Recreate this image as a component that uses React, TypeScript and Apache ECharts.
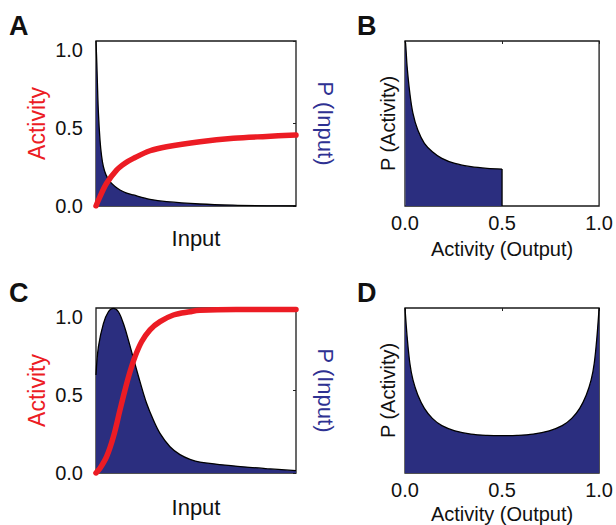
import React, { useEffect, useRef } from "react";
import * as echarts from "echarts";

// ---- data ----
const tickLabels = ["0.0", "0.5", "1.0"];

// Panel A: P(Input) density (blue) and Activity response (red)
const blueA = [
  [0, 1.06], [0.004, 0.92], [0.007, 0.79], [0.012, 0.6], [0.02, 0.424], [0.028, 0.32],
  [0.037, 0.252], [0.05, 0.2], [0.07, 0.156], [0.095, 0.125], [0.12, 0.103], [0.15, 0.085],
  [0.187, 0.071], [0.27, 0.043], [0.353, 0.028], [0.52, 0.013], [0.685, 0.005],
  [0.855, 0.001], [1, 0]
];
const redA = [
  [0, 0], [0.02, 0.06], [0.053, 0.146], [0.103, 0.231], [0.145, 0.275], [0.187, 0.306],
  [0.27, 0.355], [0.353, 0.381], [0.52, 0.413], [0.687, 0.435], [0.853, 0.447], [1, 0.456]
];

// Panel B: P(Activity)
const blueB = [
  [0, 1], [0.003, 0.986], [0.011, 0.844], [0.025, 0.683], [0.041, 0.562], [0.066, 0.46],
  [0.1, 0.38], [0.141, 0.329], [0.19, 0.289], [0.257, 0.258], [0.34, 0.238],
  [0.423, 0.228], [0.5, 0.224]
];
const edgeB = [[0.5, 0.224], [0.5, 0]];

// Panel C
const blueC = [
  [0, 0.63], [0.012, 0.81], [0.037, 0.96], [0.062, 1.036], [0.087, 1.058], [0.112, 1.036],
  [0.137, 0.96], [0.162, 0.854], [0.187, 0.737], [0.22, 0.587], [0.253, 0.448],
  [0.287, 0.34], [0.32, 0.255], [0.37, 0.169], [0.42, 0.118], [0.47, 0.088],
  [0.52, 0.07], [0.685, 0.046], [0.853, 0.028], [1, 0.015]
];
const redC = [
  [0, 0], [0.02, 0.03], [0.053, 0.105], [0.087, 0.233], [0.12, 0.405], [0.145, 0.533],
  [0.17, 0.65], [0.195, 0.747], [0.228, 0.843], [0.27, 0.92], [0.32, 0.972],
  [0.387, 1.015], [0.47, 1.036], [0.52, 1.045], [0.7, 1.05], [1, 1.05]
];

// Panel D
const blueD = [
  [0, 1], [0.011, 0.826], [0.025, 0.665], [0.041, 0.564], [0.066, 0.473], [0.1, 0.392],
  [0.141, 0.331], [0.19, 0.287], [0.257, 0.256], [0.34, 0.236], [0.423, 0.228],
  [0.5, 0.226], [0.577, 0.228], [0.66, 0.236], [0.743, 0.256], [0.81, 0.287],
  [0.859, 0.331], [0.9, 0.392], [0.934, 0.473], [0.959, 0.564], [0.975, 0.665],
  [0.989, 0.826], [1, 1]
];

const RED = "#ec1c24";
const NAVY = "#2b2e7f";
const NAVY_TEXT = "#2e3192";
const FONT = "'Liberation Sans', Arial, sans-serif";
const INK = "#111";

function tickFmt(v: number) {
  const i = [0, 0.5, 1].findIndex((t) => Math.abs(t - v) < 1e-6);
  return i >= 0 ? tickLabels[i] : "";
}

export default function App() {
  const ref = useRef<HTMLDivElement>(null);
  useEffect(() => {
    document.body.style.margin = "0";
    const chart = echarts.init(ref.current!, undefined, { renderer: "svg" });

    const grids = [
      { left: 96, top: 41, width: 200, height: 165 },
      { left: 405, top: 41, width: 201, height: 165 },
      { left: 96, top: 308, width: 200, height: 165 },
      { left: 405, top: 308, width: 201, height: 165 }
    ].map((g) => ({ ...g, show: true, borderColor: "#1a1a1a", borderWidth: 1.3, backgroundColor: "transparent" }));

    const hidden = { show: false };
    const innerTick = () => ({
      show: true, inside: true, length: 3, lineStyle: { color: "#222", width: 1 }
    });

    const xAxis: any[] = [
      // 0: A bottom
      {
        gridIndex: 0, type: "value", min: 0, max: 1, axisLine: hidden, axisTick: hidden,
        axisLabel: hidden, splitLine: hidden, name: "Input", nameLocation: "middle", nameGap: 21,
        nameTextStyle: { fontFamily: FONT, fontSize: 22, color: INK }
      },
      // 1: B bottom
      {
        gridIndex: 1, type: "value", min: 0, max: 1, interval: 0.5, axisLine: hidden,
        axisTick: hidden, splitLine: hidden,
        axisLabel: { fontFamily: FONT, fontSize: 20, color: INK, margin: 7, formatter: tickFmt },
        name: "Activity (Output)", nameLocation: "middle", nameGap: 33,
        nameTextStyle: { fontFamily: FONT, fontSize: 20, color: INK }
      },
      // 2: B top
      {
        gridIndex: 1, type: "value", position: "top", min: 0, max: 1, interval: 0.5,
        axisLine: hidden, axisTick: innerTick(), axisLabel: hidden, splitLine: hidden
      },
      // 3: C bottom
      {
        gridIndex: 2, type: "value", min: 0, max: 1, axisLine: hidden, axisTick: hidden,
        axisLabel: hidden, splitLine: hidden, name: "Input", nameLocation: "middle", nameGap: 23,
        nameTextStyle: { fontFamily: FONT, fontSize: 22, color: INK }
      },
      // 4: D bottom
      {
        gridIndex: 3, type: "value", min: 0, max: 1, interval: 0.5, axisLine: hidden,
        axisTick: hidden, splitLine: hidden,
        axisLabel: { fontFamily: FONT, fontSize: 20, color: INK, margin: 7, formatter: tickFmt },
        name: "Activity (Output)", nameLocation: "middle", nameGap: 31,
        nameTextStyle: { fontFamily: FONT, fontSize: 20, color: INK }
      },
      // 5: D top
      {
        gridIndex: 3, type: "value", position: "top", min: 0, max: 1, interval: 0.5,
        axisLine: hidden, axisTick: innerTick(), axisLabel: hidden, splitLine: hidden
      }
    ];

    const leftY = (gi: number) => ({
      gridIndex: gi, type: "value", min: 0, max: 1.06, interval: 0.5, axisLine: hidden,
      axisTick: hidden, splitLine: hidden,
      axisLabel: { fontFamily: FONT, fontSize: 20, color: INK, margin: 13, formatter: tickFmt, showMaxLabel: false },
      name: "Activity", nameLocation: "middle", nameRotate: 90, nameGap: 48,
      nameTextStyle: { fontFamily: FONT, fontSize: 23, color: RED }
    });
    const rightY = (gi: number) => ({
      gridIndex: gi, type: "value", position: "right", min: 0, max: 1, interval: 0.5,
      axisLine: hidden, axisTick: innerTick(), axisLabel: hidden, splitLine: hidden,
      name: "P (Input)", nameLocation: "middle", nameRotate: -90, nameGap: 18,
      nameTextStyle: { fontFamily: FONT, fontSize: 22, color: NAVY_TEXT }
    });
    const pY = (gi: number) => ({
      gridIndex: gi, type: "value", min: 0, max: 1, axisLine: hidden, axisTick: hidden,
      axisLabel: hidden, splitLine: hidden,
      name: "P (Activity)", nameLocation: "middle", nameRotate: 90, nameGap: 7,
      nameTextStyle: { fontFamily: FONT, fontSize: 20, color: INK }
    });

    const yAxis: any[] = [leftY(0), rightY(0), pY(1), leftY(2), rightY(2), pY(3)];

    const area = (data: number[][], xi: number, yi: number) => ({
      type: "line", xAxisIndex: xi, yAxisIndex: yi, data, symbol: "none",
      smooth: 0.35,
      lineStyle: { color: "#000", width: 1.3 },
      areaStyle: { color: NAVY, opacity: 1 }, z: 2
    });
    const redLine = (data: number[][], xi: number, yi: number) => ({
      type: "line", xAxisIndex: xi, yAxisIndex: yi, data, symbol: "none",
      smooth: 0.35,
      lineStyle: { color: RED, width: 5.5, cap: "round" }, z: 3
    });

    const series: any[] = [
      area(blueA, 0, 0),
      redLine(redA, 0, 0),
      area(blueB, 1, 2),
      {
        type: "line", xAxisIndex: 1, yAxisIndex: 2, data: edgeB, symbol: "none",
        lineStyle: { color: "#000", width: 1.3 }, z: 3
      },
      area(blueC, 3, 3),
      redLine(redC, 3, 3),
      area(blueD, 4, 5)
    ];

    const letter = (t: string, x: number, y: number) => ({
      type: "text", left: x, top: y,
      style: { text: t, font: `bold 27px ${FONT}`, fill: INK }
    });

    chart.setOption({
      animation: false,
      grid: grids,
      xAxis,
      yAxis,
      series,
      graphic: [letter("A", 9, 12), letter("B", 357, 12), letter("C", 9, 279), letter("D", 357, 279)]
    });
    return () => chart.dispose();
  }, []);
  return <div ref={ref} style={{ width: 616, height: 525 }} />;
}
